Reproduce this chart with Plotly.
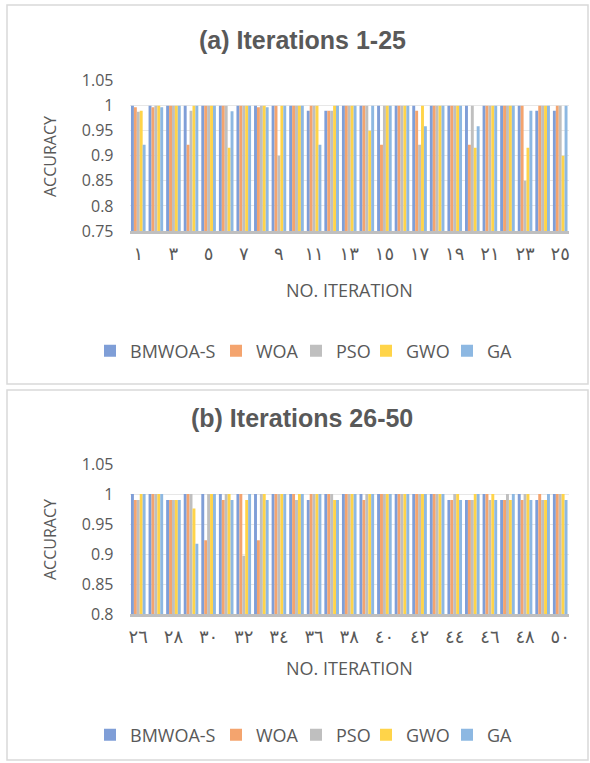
import plotly.graph_objects as go

W, H = 590, 763

# Iteration labels in Arabic-Indic digits
DIGITS = "٠١٢٣٤٥٦٧٨٩"
def to_ar(n):
    return "".join(DIGITS[int(c)] for c in str(n))

iters_a = [to_ar(i) for i in range(1, 26)]
iters_b = [to_ar(i) for i in range(26, 51)]

series_names = ["BMWOA-S", "WOA", "PSO", "GWO", "GA"]
series_colors = ["#7F9ED7", "#F4A46E", "#BFBFBF", "#FFD449", "#8DB8E2"]

# Accuracy per iteration, iterations 1-25
bmwoa_a = [1, 1, 1, 1, 1, 1, 1, 1, 1, 1, 0.99, 0.99, 1, 1, 1, 1, 1, 1, 1, 1, 1, 1, 1, 0.99, 0.99]
woa_a = [0.997, 0.997, 1, 0.922, 1, 1, 1, 0.997, 1, 1, 1, 0.99, 1, 1, 0.922, 1, 0.99, 1, 1, 0.922, 1, 1, 1, 1, 1]
pso_a = [0.988, 1, 1, 0.99, 1, 1, 1, 1, 0.9, 1, 1, 0.99, 1, 1, 1, 1, 0.922, 1, 1, 1, 1, 1, 0.85, 1, 1]
gwo_a = [0.99, 1, 1, 1, 1, 0.916, 1, 1, 1, 1, 1, 1, 1, 0.95, 1, 1, 1, 1, 1, 0.916, 1, 1, 0.916, 1, 0.9]
ga_a = [0.922, 0.997, 1, 1, 1, 0.989, 1, 0.997, 1, 1, 0.922, 1, 1, 1, 1, 1, 0.959, 1, 1, 0.959, 1, 1, 0.99, 1, 1]

# Accuracy per iteration, iterations 26-50
bmwoa_b = [1, 1, 0.99, 1, 1, 1, 1, 1, 1, 1, 0.99, 1, 1, 1, 1, 1, 1, 1, 0.99, 0.99, 1, 0.99, 1, 0.99, 1]
woa_b = [0.99, 1, 0.99, 1, 0.923, 0.99, 1, 0.923, 1, 1, 1, 1, 1, 0.99, 1, 1, 1, 1, 0.99, 0.99, 1, 0.99, 0.99, 1, 1]
pso_b = [0.99, 1, 0.99, 1, 1, 1, 0.897, 1, 1, 0.99, 1, 1, 1, 1, 1, 1, 1, 1, 1, 0.99, 0.99, 1, 1, 0.99, 1]
gwo_b = [1, 1, 0.99, 0.976, 1, 1, 0.99, 1, 1, 1, 1, 0.99, 1, 1, 1, 1, 1, 1, 1, 1, 1, 0.99, 1, 0.99, 1]
ga_b = [1, 1, 0.99, 0.917, 1, 0.99, 1, 0.99, 1, 1, 1, 0.99, 1, 1, 1, 1, 1, 1, 0.99, 1, 0.99, 1, 0.99, 1, 0.99]

values_a = [bmwoa_a, woa_a, pso_a, gwo_a, ga_a]
values_b = [bmwoa_b, woa_b, pso_b, gwo_b, ga_b]

TXT = "#595959"
SANS = "Open Sans, Noto Sans, sans-serif"

def px_x(x):
    return x / W

def px_y(y):
    return 1 - y / H

# Each legend entry sits in its own legend box so entries can be spaced freely
legend_left_px = [90, 216, 296, 366, 447]
legend_rows_px = [351, 735]

fig = go.Figure()

legend_layout = {}
for panel, (cats, vals, xa, ya) in enumerate([(iters_a, values_a, "x", "y"),
                                               (iters_b, values_b, "x2", "y2")]):
    for i, (name, color, v) in enumerate(zip(series_names, series_colors, vals)):
        idx = panel * 5 + i + 1
        lid = "legend" if idx == 1 else f"legend{idx}"
        fig.add_trace(go.Bar(x=cats, y=v, name=name,
                             marker=dict(color=color, line=dict(width=0)),
                             xaxis=xa, yaxis=ya, legend=lid))
        legend_layout[lid] = dict(
            x=px_x(legend_left_px[i]), xanchor="left",
            y=px_y(legend_rows_px[panel]), yanchor="middle",
            orientation="h", font=dict(family=SANS, size=18, color=TXT),
            itemwidth=30, bgcolor="rgba(0,0,0,0)", borderwidth=0,
        )

plot_left, plot_right = 129.5, 569

def xaxis_cfg(cats, anchor):
    return dict(
        domain=[px_x(plot_left), px_x(plot_right)],
        anchor=anchor, type="category",
        tickmode="array", tickvals=cats[0::2], ticktext=cats[0::2],
        ticks="", ticklabelstandoff=5,
        tickfont=dict(family="DejaVu Sans", size=18, color=TXT),
        showline=True, linecolor="#BFBFBF", linewidth=2.5,
        showgrid=False, zeroline=False, fixedrange=True, automargin=False,
    )

def yaxis_cfg(top_px, bottom_px, rng, anchor):
    return dict(
        domain=[px_y(bottom_px), px_y(top_px)],
        anchor=anchor, range=rng, dtick=0.05, tick0=0,
        tickfont=dict(family=SANS, size=16, color=TXT),
        ticks="", ticklabelstandoff=15,
        showgrid=True, gridcolor="#E7E7E7", gridwidth=1,
        showline=False, zeroline=False, fixedrange=True, automargin=False,
    )

fig.update_layout(
    width=W, height=H,
    margin=dict(l=0, r=0, t=0, b=0, autoexpand=False),
    paper_bgcolor="white", plot_bgcolor="white",
    barmode="group", bargap=0.17, bargroupgap=0,
    showlegend=True,
    xaxis=xaxis_cfg(iters_a, "y"),
    yaxis=yaxis_cfg(80.6, 231, [0.75, 1.05], "x"),
    xaxis2=xaxis_cfg(iters_b, "y2"),
    yaxis2=yaxis_cfg(464, 614, [0.8, 1.05], "x2"),
    **legend_layout,
)

# Panel frames
for top, bottom in [(5, 384), (390, 760)]:
    fig.add_shape(type="rect", xref="paper", yref="paper",
                  x0=px_x(7), x1=px_x(588), y0=px_y(bottom), y1=px_y(top),
                  line=dict(color="#D9D9D9", width=1.5), fillcolor="rgba(0,0,0,0)", layer="below")

# Titles and axis titles
texts = [
    ("(a) Iterations 1-25", 302, 40, 0, dict(family="Liberation Sans, Arial", size=25, color=TXT), True),
    ("(b) Iterations 26-50", 302, 418, 0, dict(family="Liberation Sans, Arial", size=25, color=TXT), True),
    ("ACCURACY", 50, 157, -90, dict(family=SANS, size=16, color=TXT), False),
    ("ACCURACY", 50, 540, -90, dict(family=SANS, size=16, color=TXT), False),
    ("NO. ITERATION", 349, 290, 0, dict(family=SANS, size=18, color=TXT), False),
    ("NO. ITERATION", 349, 668, 0, dict(family=SANS, size=18, color=TXT), False),
]
for text, x, y, ang, font, bold in texts:
    fig.add_annotation(text=f"<b>{text}</b>" if bold else text, xref="paper", yref="paper",
                       x=px_x(x), y=px_y(y), xanchor="center", yanchor="middle",
                       textangle=ang, showarrow=False, font=font)

fig.write_html("out.html")
